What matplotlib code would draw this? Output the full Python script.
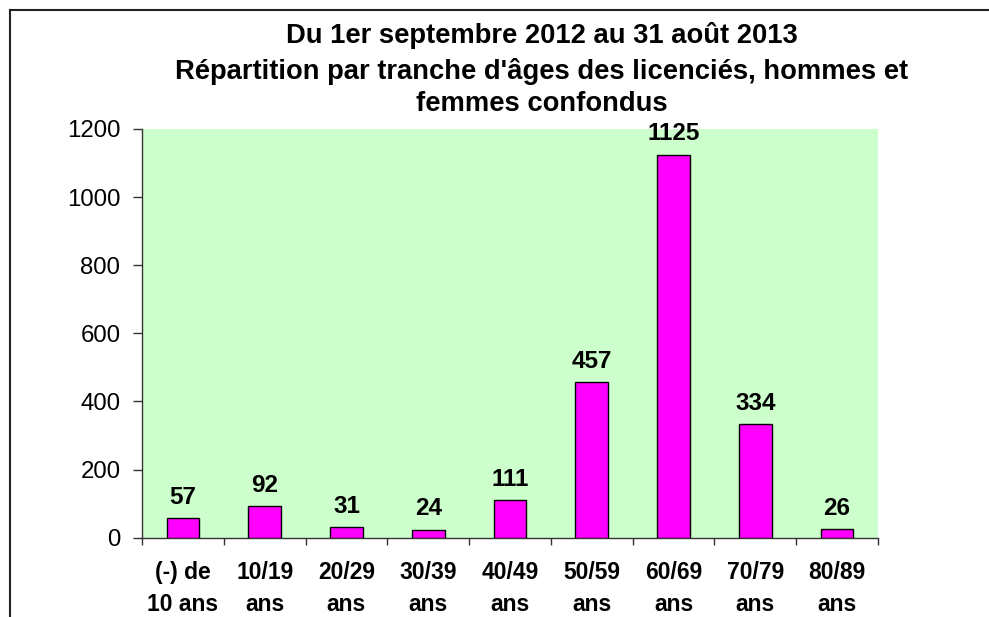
import matplotlib
matplotlib.use("Agg")
import matplotlib.pyplot as plt
from matplotlib.lines import Line2D

plt.rcParams['font.family'] = ['Liberation Sans', 'DejaVu Sans']

categories = ["(-) de\n10 ans", "10/19\nans", "20/29\nans", "30/39\nans", "40/49\nans",
              "50/59\nans", "60/69\nans", "70/79\nans", "80/89\nans"]
values = [57, 92, 31, 24, 111, 457, 1125, 334, 26]
title_lines = ["Du 1er septembre 2012 au 31 août 2013",
               "Répartition par tranche d'âges des licenciés, hommes et",
               "femmes confondus"]
yticks = [0, 200, 400, 600, 800, 1000, 1200]

W, H = 989, 617
fig = plt.figure(figsize=(W / 100, H / 100), dpi=100)
fig.patch.set_facecolor('white')

ax = fig.add_axes([142 / W, 1 - 537.7 / H, (878 - 142) / W, (537.7 - 129) / H])
ax.set_facecolor('#CCFFCC')

x = list(range(len(values)))
bars = ax.bar(x, values, width=0.40, color='#FF00FF', edgecolor='black', linewidth=1.0, zorder=3)

for xi, v in zip(x, values):
    ax.annotate(str(v), (xi, v), xytext=(0, 10.3), textcoords='offset points',
                ha='center', va='baseline', fontsize=17.5, fontweight='bold', color='black')

ax.set_xlim(-0.5, len(values) - 0.5)
ax.set_ylim(0, 1200)
ax.set_yticks(yticks)
ax.set_yticklabels([str(t) for t in yticks], fontsize=17.3)
ax.tick_params(axis='y', direction='out', length=6.5, width=1, color='#333333', pad=9)

ax.set_xticks(x)
ax.set_xticklabels(categories, fontsize=16.5, fontweight='bold', linespacing=1.52)
ax.set_xticks([i - 0.5 for i in range(len(values) + 1)], minor=True)
ax.tick_params(axis='x', which='major', length=0, pad=16.5)
ax.tick_params(axis='x', which='minor', direction='out', length=5, width=1, color='#333333')

for s in ['top', 'right']:
    ax.spines[s].set_visible(False)
for s in ['left', 'bottom']:
    ax.spines[s].set_color('#333333')
    ax.spines[s].set_linewidth(1.0)

baselines = [43, 79, 111]
for line, b in zip(title_lines, baselines):
    fig.text(542 / W, 1 - b / H, line, ha='center', va='baseline', fontsize=19.7,
             fontweight='bold', color='black')

# outer border (left and top)
fig.add_artist(Line2D([9.5 / W, 9.5 / W], [0, 1 - 9.5 / H], transform=fig.transFigure,
                      color='#222222', linewidth=1.5))
fig.add_artist(Line2D([9.5 / W, 1], [1 - 9.5 / H, 1 - 9.5 / H], transform=fig.transFigure,
                      color='#222222', linewidth=1.5))

fig.savefig('out.png', dpi=100)
